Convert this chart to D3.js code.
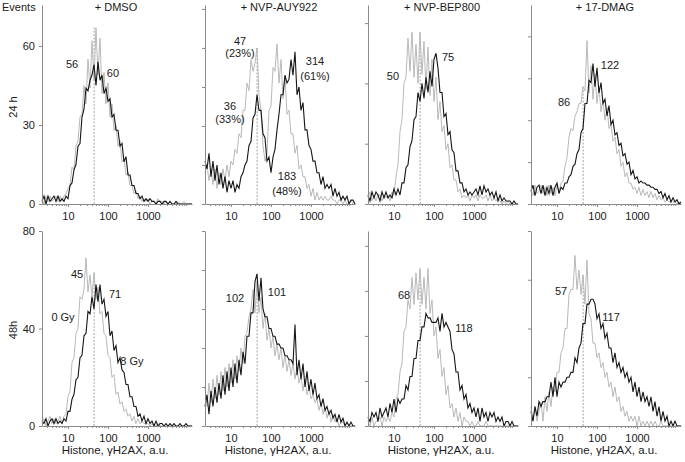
<!DOCTYPE html>
<html>
<head>
<meta charset="utf-8">
<script src="https://cdn.jsdelivr.net/npm/d3@7/dist/d3.min.js"></script>
<style>
  html, body { margin: 0; padding: 0; background: #fff; }
  svg { display: block; font-family: "Liberation Sans", Arial, sans-serif; }
</style>
</head>
<body>
<script>
// ---------------- DATA ----------------
const treatments = ["+ DMSO", "+ NVP-AUY922", "+ NVP-BEP800", "+ 17-DMAG"];
const timeRows = ["24 h", "48h"];
const yAxisTitle = "Events";
const xAxisTitle = "Histone, \u03B3H2AX, a.u.";
const majorTicks = [10, 100, 1000];
const minorTicks = [3,4,5,6,7,8,9,20,30,40,50,60,70,80,90,200,300,400,500,600,700,800,900,2000,3000,4000,5000,6000,7000,8000,9000];
const xDomain = [2.24, 12590];
const controlMedian = 45;

// y-axis extents & tick steps (per panel, row 24 h then row 48 h)
const yMax24 = [75.6, 51, 66, 95];
const yStep24 = [30, 10, 20, 20];
const yMax48 = [80, 50, 43.3, 40];
const yStep48 = [40, 10, 10, 10];

// channel positions (log10 of fluorescence, a.u.)
const channelLog = [
  0.35,0.40,0.45,0.50,0.55,0.60,0.65,0.70,0.75,0.80,
  0.85,0.90,0.95,1.00,1.05,1.10,1.15,1.20,1.25,1.30,
  1.35,1.40,1.45,1.50,1.55,1.60,1.65,1.70,1.75,1.80,
  1.85,1.90,1.95,2.00,2.05,2.10,2.15,2.20,2.25,2.30,
  2.35,2.40,2.45,2.50,2.55,2.60,2.65,2.70,2.75,2.80,
  2.85,2.90,2.95,3.00,3.05,3.10,3.15,3.20,3.25,3.30,
  3.35,3.40,3.45,3.50,3.55,3.60,3.65,3.70,3.75,3.80,
  3.85,3.90,3.95,4.00,4.05,4.10];

// 24 h, 0 Gy (grey) and 8 Gy (black)
const dmso24_0Gy = [2,0,3,1,3,1,2,3,1,3, 1,3,4,6,7,14,13,22,24,33, 34,45,38,55,44,62,47,67,49,63, 42,50,38,46,33,38,28,30,22,24, 16,17,11,12,7,7,4,5,2,3, 1,2,1,2,0,1,1,0,2,1, 1,0,1,0,1,0,0,0,1,0, 0,1,0,0,0,0];
const dmso24_8Gy = [1,3,0,3,1,2,3,1,3,1, 2,1,3,2,7,8,13,15,22,23, 33,36,44,43,47,49,53,45,54,47, 49,42,44,39,40,33,34,28,28,22, 23,16,18,11,11,7,7,4,4,2, 3,1,2,1,2,1,1,0,1,1, 0,1,1,0,1,0,0,1,0,0, 0,0,0,0,0,0];
const auy24_0Gy = [8,10,6,9,5,9,4,8,5,9, 6,10,7,11,10,14,13,18,17,24, 24,31,29,37,34,36,40,28,24,15, 11,13,24,25,35,34,41,31,37,27, 33,23,24,18,18,13,15,9,10,7, 7,4,5,2,4,1,3,1,2,1, 2,1,1,2,1,1,0,1,1,0, 1,0,0,1,0,0];
const auy24_8Gy = [11,9,13,7,11,6,10,5,8,4, 7,3,6,4,6,3,5,4,7,8, 10,11,15,16,22,23,28,24,24,18, 17,11,12,8,12,14,19,23,28,28, 33,31,32,37,33,39,28,30,24,26, 19,19,15,14,11,11,8,8,5,7, 4,5,4,5,2,4,2,3,1,2, 1,2,0,1,1,0];
const bep24_0Gy = [2,4,1,3,1,3,3,1,3,2, 3,1,4,3,9,13,24,28,40,42, 55,44,57,42,53,40,57,43,54,38, 52,36,48,34,42,28,34,24,26,18, 20,12,13,8,8,4,5,2,3,2, 3,1,3,2,3,1,3,2,2,3, 1,3,1,2,1,2,1,0,1,0, 1,0,0,0,0,0];
const bep24_8Gy = [3,1,4,2,4,3,1,4,2,4, 2,3,2,5,3,5,3,7,7,12, 13,19,21,28,29,37,34,40,35,42, 37,44,39,48,50,45,37,37,29,30, 23,24,18,17,11,11,7,7,4,5, 3,4,3,4,5,3,6,3,6,4, 5,3,4,2,4,1,3,1,2,1, 1,1,0,1,0,0];
const dmag24_0Gy = [7,4,9,5,6,9,5,8,4,9, 5,8,4,9,6,10,11,18,22,32, 36,35,42,44,48,48,56,54,78,53, 66,50,62,48,56,44,50,40,46,36, 38,30,32,24,26,18,20,13,15,10, 10,7,8,5,8,4,7,4,6,3, 6,3,5,2,4,2,3,1,2,1, 1,1,1,0,1,0];
const dmag24_8Gy = [6,9,4,8,9,5,9,4,8,5, 9,4,8,10,5,8,7,10,10,13, 14,18,19,24,26,34,36,48,48,59, 58,67,56,65,53,58,48,50,42,47, 38,40,33,34,28,29,23,24,19,20, 14,16,12,13,10,11,10,10,9,9, 8,8,7,7,5,6,3,5,2,4, 1,3,1,2,0,1];

// 48 h, 0 Gy (grey) and 8 Gy (black)
const dmso48_0Gy = [1,3,0,2,4,1,3,1,2,4, 1,4,5,12,14,26,28,38,40,53, 52,56,69,55,62,53,63,52,57,46, 47,38,37,29,28,20,21,13,14,9, 10,6,7,4,5,2,4,1,3,1, 2,1,1,1,0,1,0,0,1,0, 0,0,0,0,0,0,0,0,0,0, 0,0,0,0,0,0];
const dmso48_8Gy = [2,1,3,0,2,3,1,3,1,2, 1,3,2,6,6,11,13,19,20,28, 29,37,38,47,46,53,48,58,51,58, 50,52,45,47,37,39,31,33,26,28, 23,22,17,17,12,12,8,8,4,5, 2,4,1,3,1,2,0,2,0,1, 1,0,1,0,1,0,1,0,0,1, 0,0,1,0,0,0];
const auy48_0Gy = [10,5,11,6,12,7,13,8,14,9, 15,10,16,11,17,12,18,14,20,16, 23,24,28,30,35,29,37,29,33,25, 29,22,25,20,23,18,21,17,20,15, 18,14,17,13,16,12,15,11,13,9, 12,8,10,7,8,6,7,4,6,3, 5,2,4,1,3,1,2,0,1,1, 0,1,0,0,0,0];
const auy48_8Gy = [5,8,3,9,5,10,6,11,7,13, 8,14,9,15,10,16,11,17,13,19, 16,23,23,29,29,37,39,32,38,30, 28,28,25,25,23,23,21,21,20,20, 18,18,17,17,16,26,13,17,12,16, 10,14,9,12,8,11,7,8,5,7, 4,5,3,4,2,3,1,3,1,2, 0,1,0,1,0,0];
const bep48_0Gy = [1,0,2,0,1,1,2,0,2,1, 2,1,3,2,6,7,12,14,21,22, 28,26,33,27,34,28,35,27,33,26, 35,25,28,20,22,15,17,11,13,7, 9,4,5,2,4,1,3,0,2,1, 1,0,1,0,0,1,0,0,0,1, 0,0,0,0,0,0,0,0,0,0, 0,0,0,0,0,0];
const bep48_8Gy = [2,1,3,2,3,1,4,2,3,4, 2,5,3,6,3,6,5,6,6,9, 8,11,11,15,15,19,19,22,22,25, 24,24,23,23,23,24,21,25,22,23, 22,21,17,16,12,12,8,9,6,7, 4,5,3,4,2,4,1,4,2,3, 1,3,2,3,1,2,1,2,0,1, 1,0,1,0,0,0];
const dmag48_0Gy = [4,1,4,1,3,5,1,6,3,7, 4,8,7,11,11,15,16,20,20,27, 28,28,35,28,32,27,31,25,34,23, 22,17,17,14,15,12,13,10,11,8, 9,6,8,5,6,3,4,2,3,1, 2,1,2,0,2,0,1,0,1,0, 1,0,1,0,0,1,0,0,0,0, 0,0,0,0,0,0];
const dmag48_8Gy = [3,1,4,2,5,4,5,5,6,6, 9,6,10,6,9,8,9,9,10,10, 11,11,14,13,16,17,21,21,25,25, 26,26,25,22,23,20,21,18,19,16, 16,13,15,12,13,11,12,10,11,9, 10,7,9,6,8,5,7,5,6,4, 6,3,5,2,4,1,3,1,2,0, 1,0,1,0,0,0];

// median annotations: [row, col, text, x (a.u.), y (events)]
const annotations = [
  [0,0,"56",12.6,51.7],[0,0,"60",133,48.3],
  [0,1,"47",16.8,40.7],[0,1,"(23%)",16.8,37.7],[0,1,"314",1259,35.6],[0,1,"(61%)",1259,31.8],
  [0,1,"36",9.4,24.1],[0,1,"(33%)",9.4,20.8],[0,1,"183",251,6.2],[0,1,"(48%)",251,2.3],
  [0,2,"50",9.4,41.1],[0,2,"75",224,47.4],
  [0,3,"86",15,46.8],[0,3,"122",211,64.4],
  [1,0,"45",16.8,60.7],[1,0,"71",150,52.5],[1,0,"0 Gy",7.5,43.1],[1,0,"8 Gy",398,25.0],
  [1,1,"102",12.6,31.8],[1,1,"101",141,33.3],
  [1,2,"68",17.8,28.2],[1,2,"118",562,20.9],
  [1,3,"57",12.6,26.9],[1,3,"117",224,21.5]
];

const series0Gy = [[dmso24_0Gy, auy24_0Gy, bep24_0Gy, dmag24_0Gy], [dmso48_0Gy, auy48_0Gy, bep48_0Gy, dmag48_0Gy]];
const series8Gy = [[dmso24_8Gy, auy24_8Gy, bep24_8Gy, dmag24_8Gy], [dmso48_8Gy, auy48_8Gy, bep48_8Gy, dmag48_8Gy]];
const yMaxes = [yMax24, yMax48];
const ySteps = [yStep24, yStep48];

// ---------------- LAYOUT ----------------
const colLeft = [42, 205, 368, 531];
const panelW = 150;
const rowsGeom = [{ base: 204, top: 5 }, { base: 426, top: 231 }];
const axisColor = "#8a8a8a";
const textColor = "#1a1a1a";
const grey = "#b9b9b9";
const black = "#161616";

const svg = d3.select("body").append("svg").attr("width", 685).attr("height", 462);

svg.append("text").attr("x", 2).attr("y", 10.5).attr("font-size", 11).attr("fill", textColor).text(yAxisTitle);

timeRows.forEach((lab, r) => {
  const cy = r === 0 ? 107 : 330;
  svg.append("text").attr("transform", `translate(17,${cy}) rotate(-90)`)
    .attr("text-anchor", "middle").attr("font-size", 11).attr("fill", textColor).text(lab);
});

treatments.forEach((t, c) => {
  svg.append("text").attr("x", colLeft[c] + panelW / 2 - 1).attr("y", 10.5)
    .attr("text-anchor", "middle").attr("font-size", 11).attr("fill", textColor).text(t);
});

for (let r = 0; r < 2; r++) {
  for (let c = 0; c < 4; c++) {
    const g = svg.append("g");
    const x0 = colLeft[c];
    const x = d3.scaleLog().domain(xDomain).range([x0, x0 + panelW]);
    const y = d3.scaleLinear().domain([0, yMaxes[r][c]]).range([rowsGeom[r].base, rowsGeom[r].top]);
    const s0 = series0Gy[r][c], s8 = series8Gy[r][c];

    // dashed control-median marker
    const near = channelLog.map((L, i) => [L, i]).filter(([L]) => Math.abs(L - Math.log10(controlMedian)) < 0.06).map(([, i]) => i);
    const hMax = d3.max(near, i => Math.max(s0[i], s8[i]));
    g.append("line").attr("x1", x(controlMedian)).attr("x2", x(controlMedian))
      .attr("y1", y(0)).attr("y2", y(hMax))
      .attr("stroke", "#8c8c8c").attr("stroke-width", 0.8).attr("stroke-dasharray", "2,1.5");

    const line = d3.line().x((d, i) => x(Math.pow(10, channelLog[i]))).y(d => y(d));
    g.append("path").datum(s0).attr("d", line).attr("fill", "none").attr("stroke", grey).attr("stroke-width", 1);
    g.append("path").datum(s8).attr("d", line).attr("fill", "none").attr("stroke", black).attr("stroke-width", 1.1);

    // y axis
    const yt = d3.range(0, yMaxes[r][c] + 1e-6, ySteps[r][c]);
    const ya = g.append("g").attr("transform", `translate(${x0},0)`)
      .call(d3.axisLeft(y).tickValues(yt).tickSize(3).tickSizeOuter(0).tickPadding(4)
        .tickFormat(c === 0 ? d3.format("d") : () => ""));
    // x axis
    const xa = g.append("g").attr("transform", `translate(0,${rowsGeom[r].base})`)
      .call(d3.axisBottom(x).tickValues(majorTicks).tickSize(3).tickSizeOuter(0).tickPadding(5)
        .tickFormat(d3.format("d")));
    const xm = g.append("g").attr("transform", `translate(0,${rowsGeom[r].base})`)
      .call(d3.axisBottom(x).tickValues(minorTicks).tickSize(2).tickFormat(() => ""));
    xm.select(".domain").remove();
    [ya, xa, xm].forEach(a => {
      a.selectAll("path,line").attr("stroke", axisColor);
      a.selectAll("text").attr("fill", textColor).attr("font-size", 11)
        .attr("font-family", "'Liberation Sans', Arial, sans-serif");
    });

    if (r === 1) {
      g.append("text").attr("x", x0 + panelW / 2 - 2).attr("y", 454).attr("text-anchor", "middle")
        .attr("font-size", 11.5).attr("fill", textColor).text(xAxisTitle);
    }

    annotations.filter(a => a[0] === r && a[1] === c).forEach(a => {
      g.append("text").attr("x", x(a[3])).attr("y", y(a[4])).attr("text-anchor", "middle")
        .attr("font-size", 11).attr("fill", textColor).text(a[2]);
    });
  }
}
</script>
</body>
</html>
